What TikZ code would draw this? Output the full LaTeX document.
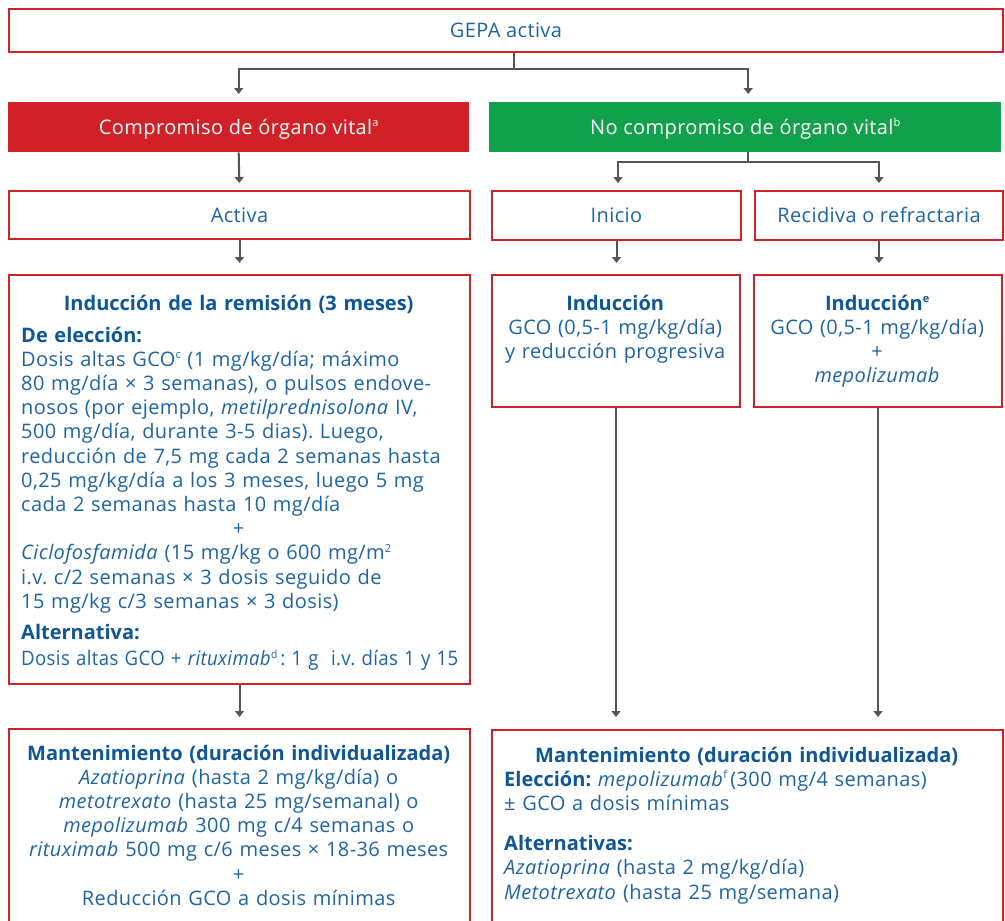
\documentclass[tikz,border=0pt]{standalone}
\usepackage{fontspec}
\usepackage{graphicx}
\setmainfont{Open Sans}[LetterSpace=2.0]
\usetikzlibrary{arrows.meta,calc}
\definecolor{gred}{RGB}{210,32,39}
\definecolor{ggreen}{RGB}{18,161,75}
\definecolor{gblue}{RGB}{30,100,163}
\definecolor{gdblue}{RGB}{14,86,150}
\definecolor{ggray}{RGB}{85,85,85}
\newcommand\bt[1]{{\bfseries\addfontfeature{LetterSpace=0}\color{gdblue}#1}}
\newcommand\sups[1]{\raisebox{7.5pt}{\fontsize{11}{11}\selectfont #1}}
\frenchspacing
\begin{document}
\begin{tikzpicture}[x=1pt,y=-1pt,
  font=\fontsize{20}{24.2}\selectfont,
  box/.style={draw=gred,line width=2pt,fill=white,inner sep=0pt,anchor=north west,
     text=gblue,text height=14pt,text depth=0pt},
  fbox/.style={inner sep=0pt,anchor=north west,text=white,text height=14pt,text depth=0pt},
  ptext/.style={text=gblue,inner sep=0pt,anchor=north west,text width=#1},
  conn/.style={draw=ggray,line width=2pt},
  arr/.style={conn,-{Triangle[width=9pt,length=6pt]},shorten >=#1},
  arr/.default=8pt]
\useasboundingbox (0,0) rectangle (1005,921);
\clip (0,0) rectangle (1005,921);

% boxes
\node[box,minimum width=994pt,minimum height=43pt] (gepa) at (8,8) {GEPA activa};
\node[fbox,fill=gred,minimum width=461pt,minimum height=50pt] (comp) at (8,102) {Compromiso de órgano vital\sups{a}};
\node[fbox,fill=ggreen,minimum width=512pt,minimum height=50pt] (nocomp) at (489,102) {No compromiso de órgano vital\sups{b}};
\node[box,minimum width=461pt,minimum height=48pt] (activa) at (8,190) {Activa};
\node[box,minimum width=249pt,minimum height=49pt] (inicio) at (491,190) {Inicio};
\node[box,minimum width=248pt,minimum height=49pt] (recid) at (754,190) {Recidiva o refractaria};

\node[box,minimum width=461pt,minimum height=409pt] (ind) at (8,274) {};
\node[box,minimum width=248pt,minimum height=132pt] (indi) at (491,274) {};
\node[box,minimum width=248pt,minimum height=132pt] (indr) at (753,274) {};
\node[box,minimum width=461pt,minimum height=210pt] (mantL) at (8,728) {};
\node[box,minimum width=511pt,minimum height=210pt] (mantR) at (491,729) {};

% texts
\node[ptext=435pt] (indt) at (21,293) {%
  \centerline{\strut\bt{Inducción de la remisión (3 meses)}}
  \vskip 7.8pt
  \leftline{\bt{De elección:}}
  \leftline{Dosis altas GCO\sups{c} (1 mg/kg/día; máximo}
  \leftline{80 mg/día × 3 semanas), o pulsos endove-}
  \leftline{nosos (por ejemplo, \textit{metilprednisolona} IV,}
  \leftline{500 mg/día, durante 3-5 dias). Luego,}
  \leftline{reducción de 7,5 mg cada 2 semanas hasta}
  \leftline{0,25 mg/kg/día a los 3 meses, luego 5 mg}
  \leftline{cada 2 semanas hasta 10 mg/día}
  \centerline{+}
  \leftline{\textit{Ciclofosfamida} (15 mg/kg o 600 mg/m\sups{2}}
  \leftline{i.v. c/2 semanas × 3 dosis seguido de}
  \leftline{15 mg/kg c/3 semanas × 3 dosis)}
  \vskip 6.7pt
  \leftline{\bt{Alternativa:}}
  \vskip 2.4pt
  \leftline{\resizebox{437pt}{\height}{Dosis altas GCO + \textit{rituximab}\sups{d}\,: 1 g\ \ i.v. días 1 y 15}}};

\node[ptext=248pt] (indit) at (491,293) {%
  \centerline{\strut\bt{Inducción}}
  \centerline{GCO (0,5-1 mg/kg/día)}
  \centerline{y reducción progresiva}};

\node[ptext=248pt] (indrt) at (753,293) {%
  \centerline{\strut\bt{Inducción\sups{e}}}
  \centerline{GCO (0,5-1 mg/kg/día)}
  \centerline{+}
  \centerline{\textit{mepolizumab}}};

\node[ptext=461pt] (mantLt) at (8,743) {%
  \centerline{\strut\bt{Mantenimiento (duración individualizada)}}
  \centerline{\textit{Azatioprina} (hasta 2 mg/kg/día) o}
  \centerline{\textit{metotrexato} (hasta 25 mg/semanal) o}
  \centerline{\textit{mepolizumab} 300 mg c/4 semanas o}
  \centerline{\textit{rituximab} 500 mg c/6 meses × 18-36 meses}
  \centerline{+}
  \centerline{Reducción GCO a dosis mínimas}};

\node[ptext=511pt] (mantRt) at (491,745) {%
  \centerline{\strut\bt{Mantenimiento (duración individualizada)}}
  \leftline{\hskip13pt\bt{Elección:} \textit{mepolizumab}\sups{f}\,(300 mg/4 semanas)}
  \leftline{\hskip13pt± GCO a dosis mínimas}
  \vskip 16pt
  \leftline{\hskip13pt\bt{Alternativas:}}
  \leftline{\hskip13pt\textit{Azatioprina} (hasta 2 mg/kg/día)}
  \leftline{\hskip13pt\textit{Metotrexato} (hasta 25 mg/semana)}};

% connectors
\coordinate (j1) at (514,69);
\draw[conn] (gepa.south -| j1) -- (j1);
\draw[arr] (j1) -| (comp.north);
\draw[arr] (j1) -| ([xshift=3pt]nocomp.north);
\coordinate (j2) at (748,162);
\draw[conn] (nocomp.south -| j2) -- (j2);
\draw[arr=7pt] (j2) -| ([xshift=1.5pt]inicio.north);
\draw[arr=7pt] (j2) -| (recid.north);
\draw[arr=7pt] (comp.south) -- (activa.north);
\draw[arr=11pt] (activa.south) -- (ind.north);
\draw[arr=11pt] (inicio.south) -- (inicio.south |- indi.north);
\draw[arr=11pt] (recid.south) -- (recid.south |- indr.north);
\draw[arr=11pt] (ind.south) -- (mantL.north);
\draw[arr=12pt] (indi.south) -- (indi.south |- mantR.north);
\draw[arr=12pt] (indr.south) -- (indr.south |- mantR.north);
\end{tikzpicture}
\end{document}
